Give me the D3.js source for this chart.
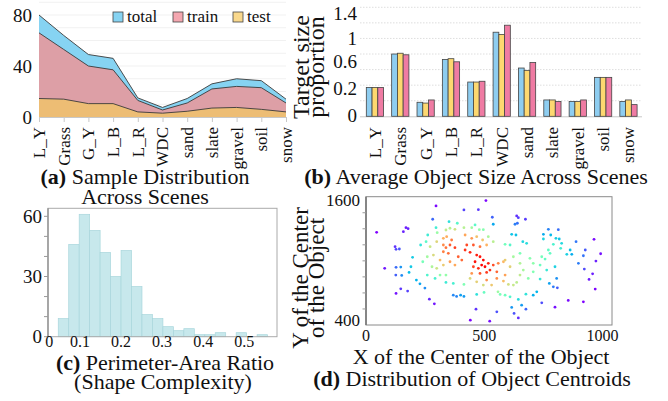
<!DOCTYPE html>
<html><head><meta charset="utf-8">
<script src="https://cdn.jsdelivr.net/npm/d3@7"></script>
<style>
body{margin:0;background:#fff}
svg{display:block;background:#fff}
text{font-family:"Liberation Serif","Tinos","Times New Roman",Times,serif;fill:#111}
</style>
</head><body>
<svg id="chart" width="668" height="401" font-family="Liberation Serif, Tinos, Times New Roman, serif"></svg>
<script>
// ---------------- DATA ----------------
const categories = ["L_Y","Grass","G_Y","L_B","L_R","WDC","sand","slate","gravel","soil","snow"];
// (a) sample counts
const totalCounts = [80, 64, 49, 46, 15, 7.5, 14.5, 26, 30, 28.5, 14];
const trainCounts = [66, 53, 40, 37, 13, 5.5, 11, 22, 24, 23, 11];
const testCounts  = [14.5, 14, 10.5, 10.5, 4, 3, 4.5, 7, 7.5, 6, 4];
const legendNames = ["total","train","test"];
const yTicksA = [0, 40, 80];
// (b) average object size (blue, yellow, pink)
const sizeBlue   = [0.37, 0.80, 0.18, 0.73, 0.44, 1.08, 0.62, 0.21, 0.19, 0.50, 0.19];
const sizeYellow = [0.37, 0.81, 0.17, 0.74, 0.44, 1.05, 0.59, 0.21, 0.19, 0.50, 0.21];
const sizePink   = [0.37, 0.79, 0.21, 0.70, 0.45, 1.17, 0.69, 0.19, 0.21, 0.50, 0.15];
const yTickLabelsB = ["0","0.2","0.6","1","1.4"];
const yTickValuesB = [0.015, 0.365, 0.70, 1.0, 1.32];
// (c) histogram of perimeter-area ratio
const histBinStart = 0.047;
const histBinWidth = 0.0255;
const histCounts = [9, 46, 61, 53, 42, 30, 43, 25, 11, 9, 5, 3, 4, 1, 1, 2, 0, 2, 0, 1];
const xTickValuesC = [0.025, 0.1, 0.2, 0.3, 0.4, 0.5];
const xTickLabelsC = ["0","0.1","0.2","0.3","0.4","0.5"];
const yTicksC = [0, 30, 60];
// (d) object centroids [x, y]
const centroids = [
[45,1275],[296,1538],[414,1498],[475,1501],[507,1591],[282,1405],[351,1381],[169,1321],[178,1311],[158,1281],
[296,1321],[386,1365],[414,1321],[461,1348],[479,1301],[496,1301],[534,1425],[538,1355],[261,1248],[301,1271],
[338,1298],[355,1315],[376,1305],[447,1321],[123,1131],[127,1105],[141,1108],[197,1025],[79,915],[127,925],
[147,928],[190,931],[182,875],[126,848],[151,845],[213,798],[228,761],[249,718],[147,711],[127,665],
[176,688],[268,608],[289,561],[231,1148],[254,1181],[271,1131],[259,1031],[285,1048],[240,981],[279,931],
[299,915],[313,848],[259,848],[292,815],[338,848],[338,775],[369,765],[414,755],[327,1215],[341,1231],
[362,1198],[327,1148],[338,1121],[355,1148],[376,1121],[327,1081],[348,1065],[299,1181],[390,1031],[405,998],
[313,998],[355,981],[376,948],[327,948],[419,1248],[447,1215],[468,1231],[493,1198],[517,1231],[426,1148],
[454,1148],[482,1131],[510,1148],[538,1181],[419,1098],[440,1075],[468,1048],[482,1031],[496,998],[461,981],
[489,948],[503,931],[454,931],[475,915],[517,965],[538,948],[559,965],[581,981],[524,898],[553,881],
[510,875],[447,865],[482,865],[440,815],[468,781],[510,798],[553,815],[588,848],[369,648],[383,635],
[400,648],[414,635],[468,655],[499,675],[558,681],[567,655],[465,508],[441,398],[523,388],[553,481],
[496,748],[531,748],[637,1438],[644,1421],[674,1405],[630,1355],[640,1365],[771,1305],[813,1301],[750,1255],
[781,1248],[616,1255],[634,1248],[750,1208],[803,1215],[817,1208],[888,1181],[964,1205],[663,1181],[679,1165],
[588,1155],[609,1148],[792,1155],[827,1165],[823,1115],[863,1098],[849,1055],[927,1098],[919,1041],[992,1061],
[972,988],[898,965],[771,1098],[778,1065],[743,1031],[757,1008],[736,948],[707,965],[693,1015],[651,1065],
[623,1031],[588,998],[651,965],[609,931],[665,898],[707,881],[764,898],[799,931],[923,908],[958,861],
[943,805],[969,708],[806,815],[736,808],[775,765],[792,731],[809,721],[855,595],[919,581],[743,571],
[799,528],[707,648],[722,681],[676,658],[644,605],[616,525],[658,548],[676,508],[626,465],[644,421],
[588,648],[609,631],[581,788],[602,755],[623,748],[637,775],[686,815],[651,848],[870,1055]
];
const xTicksD = [0, 500, 1000];
const yTicksD = [400, 1600];

// ---------------- DRAW ----------------
const svg = d3.select("#chart");

// ===== (a) =====
const gA = svg.append("g");
const xA = d3.scalePoint().domain(categories).range([39, 286]);
const yA = d3.scaleLinear().domain([0, 80]).range([117, 15]);
gA.selectAll("line.grid").data(d3.range(10, 91, 10)).join("line")
  .attr("x1", 39).attr("x2", 286).attr("y1", d => yA(d)).attr("y2", d => yA(d))
  .attr("stroke", "#f1f1f1").attr("stroke-width", 1);
const seriesA = [
  {vals: totalCounts, fill: "#86d3f2"},
  {vals: trainCounts, fill: "#dd9fa6"},
  {vals: testCounts,  fill: "#edbd74"}
];
const areaA = d3.area().x((d, i) => xA(categories[i])).y0(yA(0)).y1(d => yA(d));
const lineA = d3.line().x((d, i) => xA(categories[i])).y(d => yA(d));
seriesA.forEach(s => {
  gA.append("path").attr("d", areaA(s.vals)).attr("fill", s.fill);
  gA.append("path").attr("d", lineA(s.vals)).attr("fill", "none").attr("stroke", "#3a3a3a").attr("stroke-width", 0.9);
});
const axA = gA.append("g").attr("transform", `translate(0,${yA(0)})`)
  .call(d3.axisBottom(xA).tickSize(5).tickSizeOuter(0).tickFormat(""));
axA.selectAll("path,line").attr("stroke", "#c8c8c8");
gA.selectAll("text.ya").data(yTicksA).join("text")
  .attr("x", 32).attr("y", d => yA(d)).attr("dy", "0.35em")
  .attr("text-anchor", "end").attr("font-size", 19).text(d => d);
gA.selectAll("text.xa").data(categories).join("text")
  .attr("transform", d => `translate(${xA(d)},127) rotate(-90)`)
  .attr("dy", "0.35em").attr("text-anchor", "end").attr("font-size", 17).text(d => d);
const legendFill = ["#86d3f2", "#f4a7b0", "#f9d88c"];
const legendX = [113, 173, 233];
legendNames.forEach((n, i) => {
  gA.append("rect").attr("x", legendX[i]).attr("y", 12).attr("width", 10).attr("height", 10)
    .attr("fill", legendFill[i]).attr("stroke", "#444").attr("stroke-width", 0.8);
  gA.append("text").attr("x", legendX[i] + 14).attr("y", 22).attr("font-size", 17).text(n);
});
const tA = gA.append("text").attr("x", 145).attr("y", 184).attr("text-anchor", "middle").attr("font-size", 22);
tA.append("tspan").attr("font-weight", "bold").text("(a)");
tA.append("tspan").text(" Sample Distribution");
gA.append("text").attr("x", 145).attr("y", 204).attr("text-anchor", "middle").attr("font-size", 22).text("Across Scenes");

// ===== (b) =====
const gB = svg.append("g");
const xB = d3.scaleBand().domain(categories).range([362, 641.4]).paddingInner(0.32).paddingOuter(0.17);
const yB = d3.scaleLinear().domain([0, 1.4]).range([116.3, 7.3]);
const xSub = d3.scaleBand().domain([0, 1, 2]).range([0, xB.bandwidth()]);
gB.selectAll("line.grid").data(d3.range(1, 8).map(i => i * 0.2)).join("line")
  .attr("x1", 360).attr("x2", 642).attr("y1", d => yB(d)).attr("y2", d => yB(d))
  .attr("stroke", "#d6d6d6").attr("stroke-dasharray", "1.5,1.5").attr("stroke-width", 0.8);
const axB = gB.append("g").attr("transform", `translate(0,${yB(0)})`)
  .call(d3.axisBottom(xB).tickSize(0).tickSizeOuter(0).tickFormat(""));
axB.select("path").attr("d", "M360,0.5H642").attr("stroke", "#c8c8c8");
const seriesB = [
  {vals: sizeBlue, fill: "#8ecdf0"},
  {vals: sizeYellow, fill: "#fdd870"},
  {vals: sizePink, fill: "#ef7ba3"}
];
seriesB.forEach((s, si) => {
  gB.selectAll(null).data(categories).join("rect")
    .attr("x", d => xB(d) + xSub(si)).attr("width", xSub.bandwidth())
    .attr("y", (d, i) => yB(s.vals[i])).attr("height", (d, i) => yB(0) - yB(s.vals[i]))
    .attr("fill", s.fill).attr("stroke", "#444").attr("stroke-width", 0.8);
});
gB.selectAll("text.yb").data(yTickValuesB).join("text")
  .attr("x", 357).attr("y", d => yB(d)).attr("dy", "0.35em")
  .attr("text-anchor", "end").attr("font-size", 19).text((d, i) => yTickLabelsB[i]);
gB.selectAll("text.xb").data(categories).join("text")
  .attr("transform", d => `translate(${xB(d) + xB.bandwidth() / 2},127) rotate(-90)`)
  .attr("dy", "0.35em").attr("text-anchor", "end").attr("font-size", 17).text(d => d);
gB.append("text").attr("transform", "translate(309,67) rotate(-90)").attr("text-anchor", "middle").attr("font-size", 24).text("Target size");
gB.append("text").attr("transform", "translate(324,67) rotate(-90)").attr("text-anchor", "middle").attr("font-size", 24).text("proportion");
const tB = gB.append("text").attr("x", 476).attr("y", 184).attr("text-anchor", "middle").attr("font-size", 22);
tB.append("tspan").attr("font-weight", "bold").text("(b)");
tB.append("tspan").text(" Average Object Size Across Scenes");

// ===== (c) =====
const gC = svg.append("g");
const xC = d3.scaleLinear().domain([0.022, 0.58]).range([48, 277]);
const yC = d3.scaleLinear().domain([0, 64]).range([336.7, 208.3]);
gC.selectAll("rect.bar").data(histCounts).join("rect")
  .attr("x", (d, i) => xC(histBinStart + i * histBinWidth))
  .attr("width", (d, i) => xC(histBinStart + (i + 1) * histBinWidth) - xC(histBinStart + i * histBinWidth))
  .attr("y", d => yC(d)).attr("height", d => yC(0) - yC(d))
  .attr("fill", "#c7e8ec").attr("stroke", "#a9d6dc").attr("stroke-width", 0.7);
gC.append("rect").attr("x", 48).attr("y", 208.3).attr("width", 229).attr("height", 128.4)
  .attr("fill", "none").attr("stroke", "#aaa").attr("stroke-width", 1);
gC.append("line").attr("x1", 48).attr("x2", 48).attr("y1", 208.3).attr("y2", 336.7).attr("stroke", "#888").attr("stroke-width", 1.2);
gC.selectAll("line.tk").data(d3.range(0, 61, 10)).join("line")
  .attr("x1", 44).attr("x2", 48).attr("y1", d => yC(d)).attr("y2", d => yC(d)).attr("stroke", "#999");
gC.selectAll("text.yc").data(yTicksC).join("text")
  .attr("x", 42).attr("y", d => yC(d)).attr("dy", "0.35em").attr("text-anchor", "end").attr("font-size", 19).text(d => d);
gC.selectAll("text.xc").data(xTickValuesC).join("text")
  .attr("x", d => xC(d)).attr("y", 341).attr("dy", "0.35em").attr("text-anchor", "middle").attr("font-size", 16)
  .text((d, i) => xTickLabelsC[i]);
const tC = gC.append("text").attr("x", 165).attr("y", 370).attr("text-anchor", "middle").attr("font-size", 22);
tC.append("tspan").attr("font-weight", "bold").text("(c)");
tC.append("tspan").text(" Perimeter-Area Ratio");
gC.append("text").attr("x", 163).attr("y", 389).attr("text-anchor", "middle").attr("font-size", 22).text("(Shape Complexity)");

// ===== (d) =====
const gD = svg.append("g");
const xD = d3.scaleLinear().domain([0, 1040]).range([366, 612]);
const yD = d3.scaleLinear().domain([350, 1630]).range([325, 196.7]);
gD.append("rect").attr("x", 366).attr("y", 196.7).attr("width", 246).attr("height", 128.3)
  .attr("fill", "none").attr("stroke", "#8a8a8a").attr("stroke-width", 1);
gD.append("line").attr("x1", 366).attr("x2", 366).attr("y1", 196.7).attr("y2", 325).attr("stroke", "#777").attr("stroke-width", 1.6);
const dDom = yD.domain();
gD.selectAll("line.tk").data(d3.range(1, 8).map(i => dDom[0] + i * (dDom[1] - dDom[0]) / 8)).join("line")
  .attr("x1", 362.5).attr("x2", 366).attr("y1", d => yD(d)).attr("y2", d => yD(d)).attr("stroke", "#999");
const pts = centroids.map(d => [xD(d[0]), yD(d[1])]);
const h = 16;
const dens = pts.map(p => d3.sum(pts, q => Math.exp(-((p[0] - q[0]) ** 2 + (p[1] - q[1]) ** 2) / (2 * h * h))));
const sortedDens = dens.slice().sort((a, b) => a - b);
const rankT = v => d3.bisectLeft(sortedDens, v) / (sortedDens.length - 1);
function rainbow(t) {
  const c = v => Math.max(0, Math.min(1, v));
  const r = c(Math.abs(2 * t - 0.5)), g = c(Math.sin(Math.PI * t)), b = c(Math.cos(Math.PI * t / 2));
  return d3.rgb(r * 255, g * 255, b * 255).toString();
}
gD.selectAll("circle").data(centroids).join("circle")
  .attr("cx", d => xD(d[0])).attr("cy", d => yD(d[1])).attr("r", 1.4)
  .attr("fill", (d, i) => rainbow(Math.pow(rankT(dens[i]), 1.3)));
gD.selectAll("text.xd").data(xTicksD).join("text")
  .attr("x", d => xD(d)).attr("y", 335.5).attr("dy", "0.35em").attr("text-anchor", "middle").attr("font-size", 16).text(d => d);
gD.selectAll("text.yd").data(yTicksD).join("text")
  .attr("x", 360).attr("y", d => yD(d)).attr("dy", "0.35em").attr("text-anchor", "end").attr("font-size", 17).text(d => d);
gD.append("text").attr("x", 481).attr("y", 364).attr("text-anchor", "middle").attr("font-size", 22).text("X of the Center of the Object");
gD.append("text").attr("transform", "translate(308,278) rotate(-90)").attr("text-anchor", "middle").attr("font-size", 23).text("Y of the Center");
gD.append("text").attr("transform", "translate(324,278) rotate(-90)").attr("text-anchor", "middle").attr("font-size", 23).text("of the Object");
const tD = gD.append("text").attr("x", 472).attr("y", 386).attr("text-anchor", "middle").attr("font-size", 22);
tD.append("tspan").attr("font-weight", "bold").text("(d)");
tD.append("tspan").text(" Distribution of Object Centroids");
</script>
</body></html>
